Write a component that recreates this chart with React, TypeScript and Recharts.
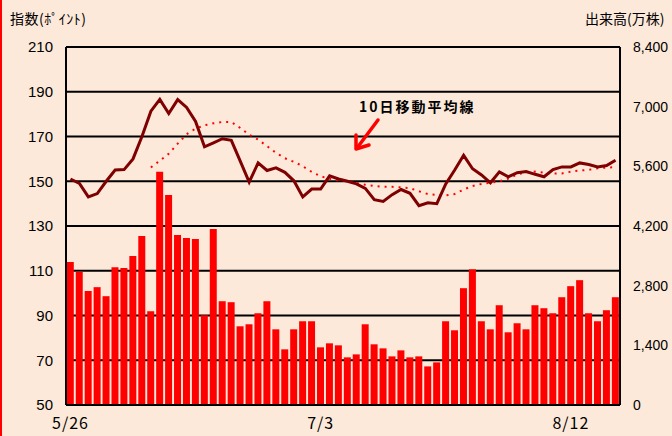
import {
  ComposedChart,
  Bar,
  Line,
  XAxis,
  YAxis,
  CartesianGrid,
} from "recharts";

const dates = [
  "5/26", "5/27", "5/28", "5/29", "5/30",
  "6/2", "6/3", "6/4", "6/5", "6/6",
  "6/9", "6/10", "6/11", "6/12", "6/13",
  "6/16", "6/17", "6/18", "6/19", "6/20",
  "6/23", "6/24", "6/25", "6/26", "6/27",
  "6/30", "7/1", "7/2", "7/3", "7/4",
  "7/7", "7/8", "7/9", "7/10", "7/11",
  "7/14", "7/15", "7/16", "7/17", "7/18",
  "7/21", "7/22", "7/23", "7/24", "7/25",
  "7/28", "7/29", "7/30", "7/31", "8/1",
  "8/4", "8/5", "8/6", "8/7", "8/8",
  "8/11", "8/12", "8/13", "8/14", "8/15",
  "8/18", "8/19",
];

// 指数 (points)
const indexValues = [
  151, 149, 143, 144.5, 150, 155, 155.2, 160, 170, 181.3,
  186.6, 180.3, 186.5, 183, 176.7, 165.4, 167.2, 169, 168.3, 159,
  149.6, 158.2, 154.8, 156, 154, 150.2, 143, 146.5, 146.5, 152.4,
  151, 150, 148.8, 146.8, 141.8, 141, 144, 146.3, 144.6, 139.1,
  140.4, 140, 148.8, 155, 161.6, 155.6, 152.8, 149.3, 154.2, 152,
  153.8, 154.3, 153.1, 152, 155.2, 156.4, 156.4, 158.2, 157.5, 156.4,
  157, 159.4,
];

// 10日移動平均線
const maValues = [
  null, null, null, null, null, null, null, null, null, 156.2,
  159.2, 162.3, 166.8, 171, 173.5, 175, 175.9, 176.5, 176.5, 173.8,
  170.8, 168.6, 165.7, 162.7, 160.3, 158.7, 156.7, 154.2, 152.2, 151.1,
  150.4, 150, 149.3, 148.4, 147.9, 147.5, 147.5, 147.3, 146.9, 145.5,
  144.3, 143.9, 143.7, 144.3, 146.3, 147.9, 148.8, 149.3, 150, 151.2,
  153, 154, 154.3, 153.8, 153.5, 153.5, 154.3, 154.8, 155.1, 155.8,
  156.1, 156.3,
];

// 出来高 (万株)
const volumes = [
  3355, 3125, 2675, 2765, 2553, 3235, 3212, 3494, 3965, 2200,
  5471, 4930, 3988, 3918, 3894, 2106, 4130, 2435, 2412, 1847,
  1894, 2153, 2435, 1776, 1306, 1776, 1965, 1965, 1353, 1447,
  1400, 1118, 1188, 1894, 1424, 1329, 1141, 1282, 1118, 1141,
  906, 1000, 1965, 1753, 2741, 3188, 1965, 1776, 2341, 1706,
  1918, 1776, 2341, 2271, 2153, 2529, 2788, 2929, 2153, 1965,
  2224, 2529,
];

const xTicks = ["5/26", "7/3", "8/12"];
const leftTicks = [50, 70, 90, 110, 130, 150, 170, 190, 210];
const rightTicks = [0, 1400, 2800, 4200, 5600, 7000, 8400];

const data = dates.map((date, i) => ({
  date,
  index: indexValues[i],
  ma: maValues[i],
  volume: volumes[i],
}));

const BG = "#FDE9D9";
const jp = "'Noto Sans CJK JP', sans-serif";
const num = "'Liberation Sans', Arial, sans-serif";

export default function App() {
  return (
    <div
      style={{
        position: "absolute",
        left: 0,
        top: 0,
        width: 672,
        height: 436,
        background: BG,
        overflow: "hidden",
      }}
    >
      <div style={{ position: "absolute", left: 0, top: 0, width: 2, height: 436, background: "#FF0000" }} />
      <div style={{ position: "absolute", left: 10, top: 8, fontFamily: jp, fontSize: 14, letterSpacing: 0.5, color: "#000" }}>
        指数(ﾎﾟｲﾝﾄ)
      </div>
      <div style={{ position: "absolute", left: 585, top: 8, fontFamily: jp, fontSize: 14, color: "#000" }}>
        出来高(万株)
      </div>
      <ComposedChart
        width={672}
        height={436}
        data={data}
        margin={{ top: 47, right: 0, bottom: 0, left: 0 }}
        barCategoryGap="9%"
      >
        <XAxis
          dataKey="date"
          ticks={xTicks}
          interval={0}
          tickLine={false}
          tickSize={0}
          tickMargin={13}
          height={31}
          axisLine={{ stroke: "#000", strokeWidth: 2 }}
          tick={{ fill: "#000", fontSize: 16, fontFamily: jp, letterSpacing: 1 }}
        />
        <YAxis
          yAxisId="left"
          domain={[50, 210]}
          ticks={leftTicks}
          interval={0}
          width={66}
          tickLine={false}
          tickSize={0}
          tickMargin={13}
          axisLine={{ stroke: "#000", strokeWidth: 2 }}
          tick={{ fill: "#000", fontSize: 15, fontFamily: num }}
        />
        <YAxis
          yAxisId="right"
          orientation="right"
          domain={[0, 8400]}
          ticks={rightTicks}
          interval={0}
          width={52}
          tickLine={false}
          tickSize={0}
          tickMargin={13}
          axisLine={{ stroke: "#000", strokeWidth: 2 }}
          tick={{ fill: "#000", fontSize: 14, fontFamily: num }}
          tickFormatter={(v: number) => v.toLocaleString("en-US")}
        />
        <Bar yAxisId="right" dataKey="volume" fill="#FF0000" isAnimationActive={false} />
        <CartesianGrid yAxisId="left" vertical={false} stroke="#000" strokeWidth={2} strokeOpacity={1} />
        <Line
          yAxisId="left"
          type="linear"
          dataKey="ma"
          stroke="#FF0000"
          strokeWidth={2}
          strokeDasharray="2 5"
          dot={false}
          isAnimationActive={false}
        />
        <Line
          yAxisId="left"
          type="linear"
          dataKey="index"
          stroke="#7F0000"
          strokeWidth={3}
          dot={false}
          isAnimationActive={false}
        />
      </ComposedChart>
      <svg
        width={672}
        height={436}
        style={{ position: "absolute", left: 0, top: 0, pointerEvents: "none" }}
      >
        <text x={359} y={112} fontFamily={jp} fontWeight="bold" fontSize={14} letterSpacing={2} fill="#000">
          10日移動平均線
        </text>
        <g stroke="#FF0000" strokeWidth={3.5} strokeLinecap="round" fill="none">
          <line x1={378} y1={120} x2={357} y2={148} />
          <polyline points="356,135 356,149 369,145" strokeLinejoin="round" />
        </g>
      </svg>
    </div>
  );
}
